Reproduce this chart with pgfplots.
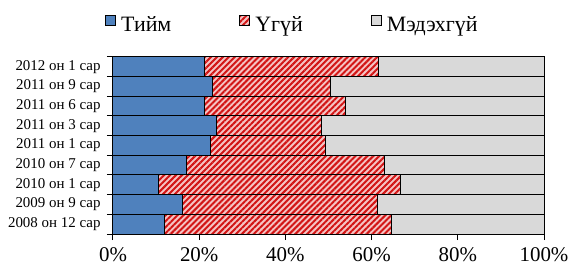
\documentclass[border=0pt]{standalone}
\usepackage{fontspec}
\setmainfont{Liberation Serif}
\usepackage{pgfplots}
\pgfplotsset{compat=1.18}
\usetikzlibrary{patterns.meta}
\definecolor{cblue}{RGB}{79,129,189}
\definecolor{cgray}{RGB}{217,217,217}
\definecolor{cpink}{RGB}{245,195,195}
\definecolor{cred}{RGB}{210,20,20}
\begin{document}
\begin{tikzpicture}
\path[use as bounding box] (-113bp,-34bp) rectangle (458bp,234bp);
\begin{axis}[
  scale only axis, width=431bp, height=177bp,
  xbar stacked, bar width=1,
  xmin=0, xmax=100, ymin=-0.5, ymax=8.5,
  axis lines*=left,
  axis line style={line width=1bp},
  xtick={0,20,...,100},
  xticklabel={\pgfmathprintnumber{\tick}\%},
  /pgf/number format/assume math mode=true,
  xticklabel style={font=\rmfamily\fontsize{21}{24}\selectfont, yshift=-4bp},
  tick align=outside,
  major tick length=6bp,
  tick style={black, line width=1bp},
  ytick={-0.5,0.5,...,8.5}, yticklabels={},
  extra y ticks={0,1,2,3,4,5,6,7,8},
  extra y tick labels={2008 он 12 сар,2009 он 9 сар,2010 он 1 сар,2010 он 7 сар,2011 он 1 сар,2011 он 3 сар,2011 он 6 сар,2011 он 9 сар,2012 он 1 сар},
  extra y tick style={major tick length=0pt, yticklabel style={font=\rmfamily\fontsize{15}{18}\selectfont, xshift=-9bp}},
  clip=false,
  legend columns=3,
  legend cell align=left,
  legend style={draw=none, at={(-0.0186,1.187)}, anchor=west, inner sep=0pt,
    font=\rmfamily\fontsize{22}{26}\selectfont,
    nodes={inner sep=0pt},
    /tikz/every odd column/.append style={column sep=5bp},
    /tikz/every even column/.append style={column sep=68bp}},
  legend image code/.code={\draw[#1, line width=1bp] (0bp,-1bp) rectangle (10bp,9bp);},
]
\addplot[draw=black, line width=1bp, fill=cblue] coordinates {
 (11.9,0) (16.2,1) (10.6,2) (17.1,3) (22.6,4) (24.0,5) (21.2,6) (23.0,7) (21.2,8)};
\addplot[draw=black, line width=1bp, preaction={fill=cpink}, pattern={Lines[angle=45,distance=4.2bp,line width=2bp]}, pattern color=cred] coordinates {
 (52.7,0) (45.1,1) (56.0,2) (46.0,3) (26.6,4) (24.3,5) (32.8,6) (27.5,7) (40.5,8)};
\addplot[draw=black, line width=1bp, fill=cgray] coordinates {
 (35.4,0) (38.7,1) (33.4,2) (36.9,3) (50.8,4) (51.7,5) (46.0,6) (49.5,7) (38.3,8)};
\legend{Тийм, Үгүй, Мэдэхгүй}
\end{axis}
\end{tikzpicture}
\end{document}
